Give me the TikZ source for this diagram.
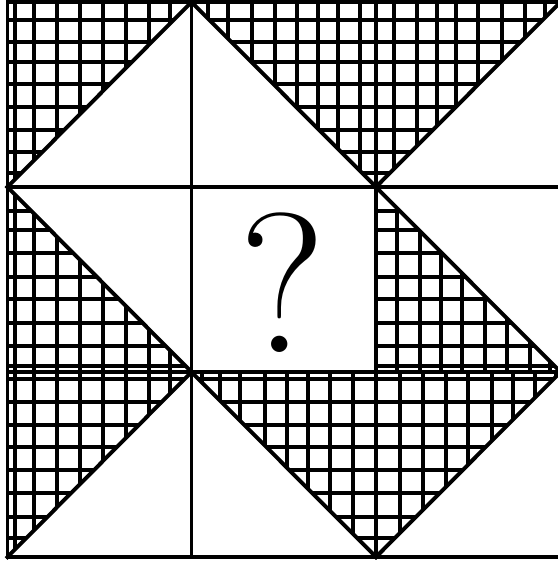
\documentclass[tikz,border=0pt]{standalone}
\begin{document}
\begin{tikzpicture}[x=1pt,y=-1pt,
  mainline/.style={line width=3.9pt, line join=miter, line cap=rect},
  hatchline/.style={line width=3.4pt},
  qmark/.style={inner sep=0pt, font=\fontsize{199}{199}\selectfont}]
\useasboundingbox (0,0) rectangle (557,562);
\fill[white] (0,0) rectangle (557,562);
\newcommand\hatchtri[3]{%
  \begin{scope}
    \clip #1;
    \foreach \hx in {#2} \draw[hatchline] (\hx,0) -- (\hx,562);
    \foreach \hy in {#3} \draw[hatchline] (0,\hy) -- (560,\hy);
  \end{scope}}
% grid points
\coordinate (a0) at (7.5,2);   \coordinate (b0) at (191.5,2);   \coordinate (c0) at (376,2);   \coordinate (d0) at (560.5,2);
\coordinate (a1) at (7.5,187); \coordinate (b1) at (191.5,187); \coordinate (c1) at (376,187); \coordinate (d1) at (560.5,187);
\coordinate (a2) at (7.5,372); \coordinate (b2) at (191.5,372); \coordinate (c2) at (376,372); \coordinate (d2) at (560.5,372);
\coordinate (a3) at (7.5,557); \coordinate (b3) at (191.5,557); \coordinate (c3) at (376,557); \coordinate (d3) at (560.5,557);
% hatched triangles
\hatchtri{(a0) -- (b0) -- (a1) -- cycle}{15,34,57,80,103,126,149,170}{20,42,62,84,107,130,152,173}
\hatchtri{(b0) -- (c0) -- (c1) -- cycle}{208,228,252,275,297,318,338,360}{20,42,62,84,107,130,152,173}
\hatchtri{(c0) -- (d0) -- (c1) -- cycle}{394,417,437,456,478,502,525,545}{20,42,62,84,107,130,152,173}
\hatchtri{(a1) -- (a2) -- (b2) -- cycle}{15,34,57,80,103,126,149,170}{211,230,253,277,299,323,346,366}
\hatchtri{(c1) -- (c2) -- (d2) -- cycle}{397,420,441,462,485,507,530,550}{211,230,253,277,299,323,346,366}
\hatchtri{(a2) -- (b2) -- (a3) -- cycle}{15,34,57,80,103,126,149,170}{379,402,425,447,470,493,517,538}
\hatchtri{(b2) -- (c2) -- (c3) -- cycle}{202,220,240,265,287,308,330,353}{379,402,425,447,470,493,517,538}
\hatchtri{(c2) -- (d2) -- (c3) -- cycle}{400,423,446,468,492,513,535,556}{379,402,425,447,470,493,517,538}
% main grid
\draw[mainline] (a0) rectangle (d3);
\draw[mainline] (b0) -- (b3);
\draw[mainline] (c0) -- (c3);
\draw[mainline] (a1) -- (d1);
\draw[mainline] (a2) -- (d2);
% diagonals
\draw[mainline] (a1) -- (b0) -- (c1) -- (d0);
\draw[mainline] (c1) -- (d2);
\draw[mainline] (a1) -- (b2) -- (c3);
\draw[mainline] (a3) -- (b2);
\draw[mainline] (c3) -- (d2);
% question mark
\node[qmark] (q) at (283,283) {?};
\end{tikzpicture}
\end{document}
